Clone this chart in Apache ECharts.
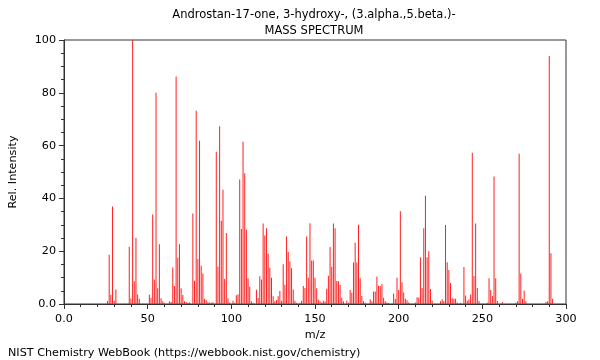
<!DOCTYPE html>
<html>
<head>
<meta charset="utf-8">
<script src="https://cdn.jsdelivr.net/npm/echarts@6/dist/echarts.min.js"></script>
<style>html,body{margin:0;padding:0;background:#fff}#c{width:600px;height:360px}</style>
</head>
<body>
<div id="c"></div>
<script>
const titleLine1 = 'Androstan-17-one, 3-hydroxy-, (3.alpha.,5.beta.)-';
const titleLine2 = 'MASS SPECTRUM';
const footer = 'NIST Chemistry WebBook (https://webbook.nist.gov/chemistry)';
const xName = 'm/z';
const yName = 'Rel. Intensity';

const mz = [26,27,28,29,30,31,39,40,41,42,43,44,45,51,52,53,54,55,56,57,58,59,60,63,64,65,66,67,68,69,70,71,72,73,74,75,77,78,79,80,81,82,83,84,85,86,87,88,89,91,92,93,94,95,96,97,98,99,101,102,103,104,105,106,107,108,109,110,111,112,113,115,116,117,118,119,120,121,122,123,124,125,126,127,128,129,130,131,132,133,134,135,136,137,138,139,141,142,143,144,145,146,147,148,149,150,151,152,153,154,155,156,157,158,159,160,161,162,163,164,165,166,167,169,170,171,172,173,174,175,176,177,178,179,180,183,184,185,186,187,188,189,190,191,192,193,194,197,198,199,200,201,202,203,204,205,206,210,211,212,213,214,215,216,217,218,219,220,225,226,227,228,229,230,231,232,233,234,235,237,239,240,241,242,243,244,245,246,247,248,253,254,255,256,257,258,259,262,270,271,272,273,274,275,276,288,289,290,291,292];
const intensity = [1.1,18.7,3.5,36.9,1.2,5.5,21.7,2.1,100,8.6,25.1,3.6,2,3.5,2.4,33.9,9.3,80,6,22.6,2.2,1,0.5,1,0.8,13.8,6.8,86.2,17.5,22.6,6,3.4,1,0.8,0.5,0.6,34.3,8.8,73.2,17,61.8,14.5,11.6,2,1.4,0.7,0.6,0.5,0.7,57.7,14.1,67.3,31.5,43.3,9.5,26.9,2.2,0.6,1.2,0.5,3.3,3.7,47.2,28.4,61.5,49.5,28.1,9.7,6.5,1,0.5,5.4,2.3,10.5,9.3,30.5,25.9,28.7,19,13.7,9.9,2.9,1,1.5,2.9,4.9,1.2,15.1,7.3,25.6,19.7,16.1,13.5,5.5,1.2,0.5,0.5,1.2,6.8,6.1,25.6,9.9,30.6,16.5,16.5,9.9,6,1.6,1,0.6,1.2,0.9,5.8,10.7,21.6,14.1,30.5,28.7,8.7,8.6,7.2,2.4,1,1.2,0.5,5.3,4.3,15.7,23.2,15.7,30,9.8,3,1,0.5,1.8,1,4.7,4.7,10.4,6.9,6.8,7.6,2.4,1,0.6,0.4,4,2,9.9,5.3,35.1,8.2,4.4,2,1.4,0.6,0.6,2.6,2.4,17.7,6.1,28.7,41,17.7,20,5.7,1.3,1,1.8,1.1,29.9,15.8,12.9,8,2.2,2,2,0.6,0.5,14,3.2,1.2,1.7,3.6,57.3,10.6,30.5,6.1,1.1,0.5,9.8,5.3,3,48.3,9.8,1.1,0.8,0.5,1,56.9,11.6,2,5,1,0.8,1,93.9,19.2,2];

const xMin = 0, xMax = 300, xInterval = 50;
const yMin = 0, yMax = 100, yInterval = 20;

const fontFamily = 'DejaVu Sans';
const frameColor = '#333';
const fmt = v => (v === 0 ? '0.0' : String(v));

const chart = echarts.init(document.getElementById('c'), null, {renderer: 'canvas'});
chart.setOption({
  animation: false,
  backgroundColor: '#fff',
  title: [
    {text: titleLine1, left: 309, top: 4, textAlign: 'center',
     textStyle: {fontFamily, fontSize: 11.5, fontWeight: 'normal', color: '#000'}},
    {text: titleLine2, left: 309, top: 20, textAlign: 'center',
     textStyle: {fontFamily, fontSize: 11.5, fontWeight: 'normal', color: '#000'}},
    {text: footer, left: 3, top: 343,
     textStyle: {fontFamily, fontSize: 11.2, fontWeight: 'normal', color: '#000'}}
  ],
  grid: {left: 62, right: 34, top: 40, bottom: 56, show: true, borderColor: frameColor, borderWidth: 1, backgroundColor: 'transparent'},
  xAxis: {
    type: 'value', min: xMin, max: xMax, interval: xInterval,
    name: xName, nameLocation: 'middle', nameGap: 24,
    nameTextStyle: {fontFamily, fontSize: 11.2, color: '#000'},
    axisLine: {show: true, lineStyle: {color: frameColor}},
    axisTick: {show: true, length: 5, lineStyle: {color: frameColor}},
    minorTick: {show: true, splitNumber: 5, length: 3, lineStyle: {color: frameColor}},
    axisLabel: {fontFamily, fontSize: 11.2, color: '#000', margin: 10, formatter: fmt},
    splitLine: {show: false}
  },
  yAxis: {
    type: 'value', min: yMin, max: yMax, interval: yInterval,
    name: yName, nameLocation: 'middle', nameGap: 45, nameRotate: 90,
    nameTextStyle: {fontFamily, fontSize: 11.2, color: '#000'},
    axisLine: {show: true, lineStyle: {color: frameColor}},
    axisTick: {show: true, length: 5, lineStyle: {color: frameColor}},
    minorTick: {show: true, splitNumber: 4, length: 3, lineStyle: {color: frameColor}},
    axisLabel: {fontFamily, fontSize: 11.2, color: '#000', margin: 8, formatter: fmt},
    splitLine: {show: false}
  },
  series: [{
    type: 'bar',
    data: mz.map((m, i) => [m, intensity[i]]),
    barWidth: 1,
    itemStyle: {color: '#ff2020'},
    large: false
  }]
});
</script>
</body>
</html>
